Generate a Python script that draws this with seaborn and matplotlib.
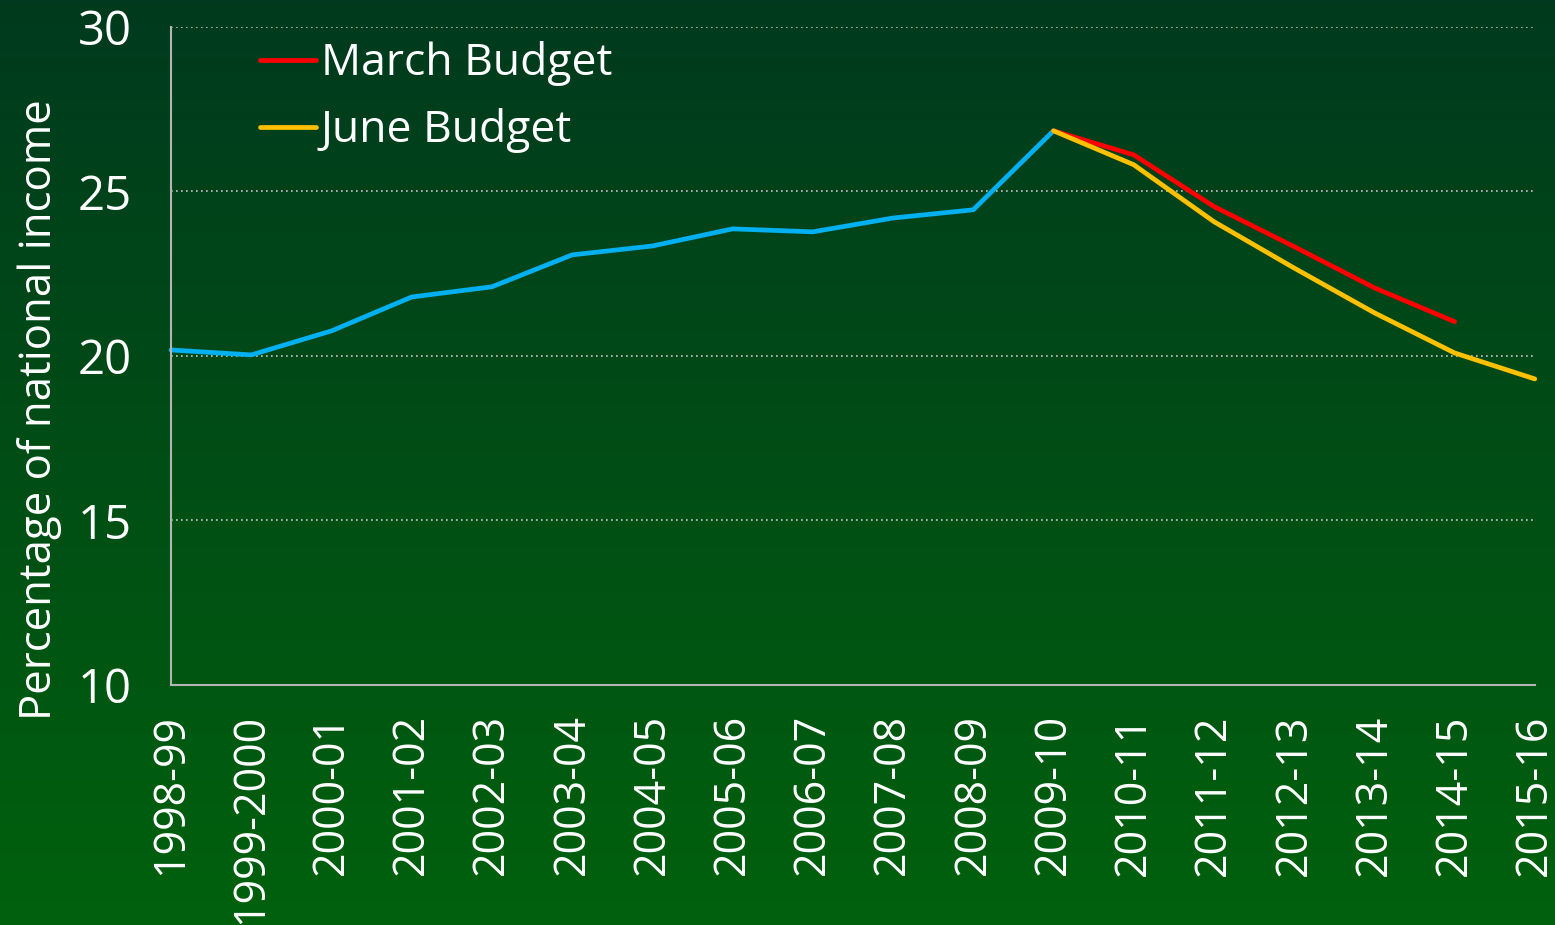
import numpy as np
import pandas as pd
import matplotlib
matplotlib.use("Agg")
import matplotlib.pyplot as plt
import seaborn as sns

years = ["1998-99", "1999-2000", "2000-01", "2001-02", "2002-03", "2003-04",
         "2004-05", "2005-06", "2006-07", "2007-08", "2008-09", "2009-10",
         "2010-11", "2011-12", "2012-13", "2013-14", "2014-15", "2015-16"]
outturn = [20.18, 20.03, 20.76, 21.79, 22.10, 23.07, 23.34, 23.86, 23.77,
           24.19, 24.44, 26.84]
march_years = ["2009-10", "2010-11", "2011-12", "2012-13", "2013-14", "2014-15"]
march = [26.84, 26.11, 24.54, 23.32, 22.07, 21.04]
june_years = ["2009-10", "2010-11", "2011-12", "2012-13", "2013-14", "2014-15", "2015-16"]
june = [26.84, 25.81, 24.08, 22.67, 21.31, 20.09, 19.30]
yticks = [10, 15, 20, 25, 30]

sns.set_style("white")
plt.rcParams['font.family'] = ['Open Sans', 'DejaVu Sans']

pos = {y: i for i, y in enumerate(years)}
df_out = pd.DataFrame({"x": [pos[y] for y in years[:len(outturn)]], "v": outturn})
df_mar = pd.DataFrame({"x": [pos[y] for y in march_years], "v": march})
df_jun = pd.DataFrame({"x": [pos[y] for y in june_years], "v": june})

fig = plt.figure(figsize=(15.55, 9.25), dpi=100)

# gradient background
bg = fig.add_axes([0, 0, 1, 1], zorder=-10)
top = np.array([0, 58, 30]) / 255
bot = np.array([0, 97, 13]) / 255
t = np.linspace(0, 1, 256)[:, None]
grad = (top[None, :] * (1 - t) + bot[None, :] * t)[:, None, :]
bg.imshow(grad, aspect='auto', extent=[0, 1, 0, 1], origin='upper')
bg.axis('off')

ax = fig.add_axes([0.110, 0.2595, 0.877, 0.7115])
ax.set_facecolor('none')

lw = 3.4
sns.lineplot(data=df_out, x="x", y="v", ax=ax, color="#00b0f0", linewidth=lw,
             clip_on=False, legend=False, solid_capstyle='round')
sns.lineplot(data=df_mar, x="x", y="v", ax=ax, color="#ff0000", linewidth=lw,
             clip_on=False, legend=False, label="March Budget", solid_capstyle='round')
sns.lineplot(data=df_jun, x="x", y="v", ax=ax, color="#ffc000", linewidth=lw,
             clip_on=False, legend=False, label="June Budget", solid_capstyle='round')

ax.set_xlim(0, len(years) - 1)
ax.set_ylim(10, 30)
ax.set_xticks(range(len(years)))
ax.set_xticklabels(years, rotation=90, fontsize=31, color='white')
ax.set_yticks(yticks)
ax.set_yticklabels([str(v) for v in yticks], fontsize=34, color='white')
ax.tick_params(axis='x', direction='out', length=9, width=1.5, color='#a8a8a8', pad=12)
ax.tick_params(axis='y', direction='out', length=10, width=1.5, color='#a8a8a8', pad=18)
ax.set_xlabel("")
ax.set_ylabel("Percentage of national income", fontsize=31.5, color='white')
ax.yaxis.set_label_coords(-0.080, 0.418)

for s in ['top', 'right']:
    ax.spines[s].set_visible(False)
for s in ['left', 'bottom']:
    ax.spines[s].set_color('#b4b4b4')
    ax.spines[s].set_linewidth(1.5)

for v in yticks[1:]:
    ax.axhline(v, color='#c8c8c8', linestyle=(0, (1, 2)), linewidth=1.2, zorder=0)

leg = ax.legend(handles=ax.lines[1:3], labels=["March Budget", "June Budget"],
                loc='upper left', bbox_to_anchor=(0.036, 1.039), frameon=False,
                fontsize=32, handlelength=1.25, handletextpad=0.12, labelspacing=0.5)
for txt in leg.get_texts():
    txt.set_color('white')

fig.savefig("out.png", dpi=100)
